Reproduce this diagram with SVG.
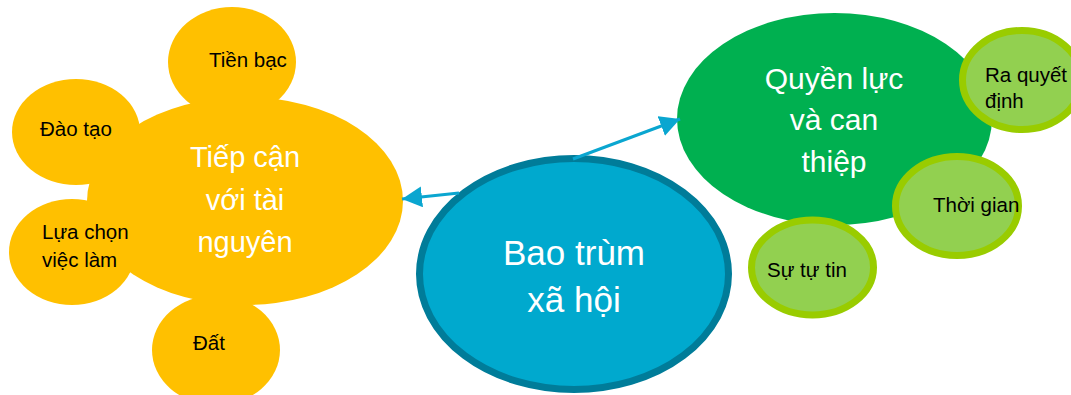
<svg xmlns="http://www.w3.org/2000/svg" width="1071" height="395" viewBox="0 0 1071 395">
<style>
.yel{fill:#FFC000}
.sub{fill:#92D050;stroke:#99CC00;stroke-width:7}
.t{font-family:"Liberation Sans",Arial,sans-serif;font-size:20.5px;fill:#000}
.big{font-family:"Liberation Sans",Arial,sans-serif;fill:#fff;text-anchor:middle}
.con{stroke:#0AA6D0;stroke-width:3;fill:none;marker-end:url(#ah)}
</style>
<defs>
<marker id="ah" markerUnits="userSpaceOnUse" markerWidth="22" markerHeight="22" refX="20" refY="10.5" orient="auto" viewBox="0 0 22 22">
<path d="M0,0 L20,10.5 L0,21 z" fill="#0AA6D0"/>
</marker>
</defs>
<rect width="1071" height="395" fill="#fff"/>
<g id="access">
<ellipse class="yel" cx="245" cy="201" rx="158" ry="104"/>
<text class="big" font-size="29" x="245" y="167">Tiếp cận</text>
<text class="big" font-size="29" x="245" y="210">với tài</text>
<text class="big" font-size="29" x="245" y="252">nguyên</text>
</g>
<g id="money">
<ellipse class="yel" cx="232" cy="62" rx="64" ry="55"/>
<text class="t" x="209" y="67">Tiền bạc</text>
</g>
<g id="training">
<ellipse class="yel" cx="76" cy="132" rx="64" ry="53"/>
<text class="t" x="40" y="136">Đào tạo</text>
</g>
<g id="jobs">
<ellipse class="yel" cx="72" cy="252" rx="63" ry="53"/>
<text class="t" x="42" y="239">Lựa chọn</text>
<text class="t" x="42" y="267">việc làm</text>
</g>
<g id="land">
<ellipse class="yel" cx="216" cy="350" rx="64" ry="55"/>
<text class="t" x="193" y="350">Đất</text>
</g>
<g id="power">
<ellipse cx="834.5" cy="119" rx="157.5" ry="106" fill="#00B050"/>
<text class="big" font-size="30" x="834" y="89">Quyền lực</text>
<text class="big" font-size="30" x="834" y="130">và can</text>
<text class="big" font-size="30" x="834" y="172">thiệp</text>
</g>
<g id="decision">
<ellipse class="sub" cx="1022" cy="80" rx="59.5" ry="49.5"/>
<text class="t" x="985" y="82">Ra quyết</text>
<text class="t" x="985" y="108">định</text>
</g>
<g id="time">
<ellipse class="sub" cx="957" cy="206" rx="61.5" ry="49.5"/>
<text class="t" x="933" y="212">Thời gian</text>
</g>
<g id="confidence">
<ellipse class="sub" cx="812.5" cy="267.5" rx="61" ry="47.5"/>
<text class="t" x="767" y="277">Sự tự tin</text>
</g>
<g id="inclusion">
<ellipse cx="574" cy="274" rx="154.5" ry="115.5" fill="#00A9CE" stroke="#007C99" stroke-width="7"/>
<text class="big" font-size="35" x="574" y="265">Bao trùm</text>
<text class="big" font-size="35" x="574" y="312">xã hội</text>
</g>
<g id="connectors">
<line class="con" x1="459" y1="193" x2="402" y2="199"/>
<line class="con" x1="573" y1="159" x2="680" y2="119"/>
</g>
</svg>
